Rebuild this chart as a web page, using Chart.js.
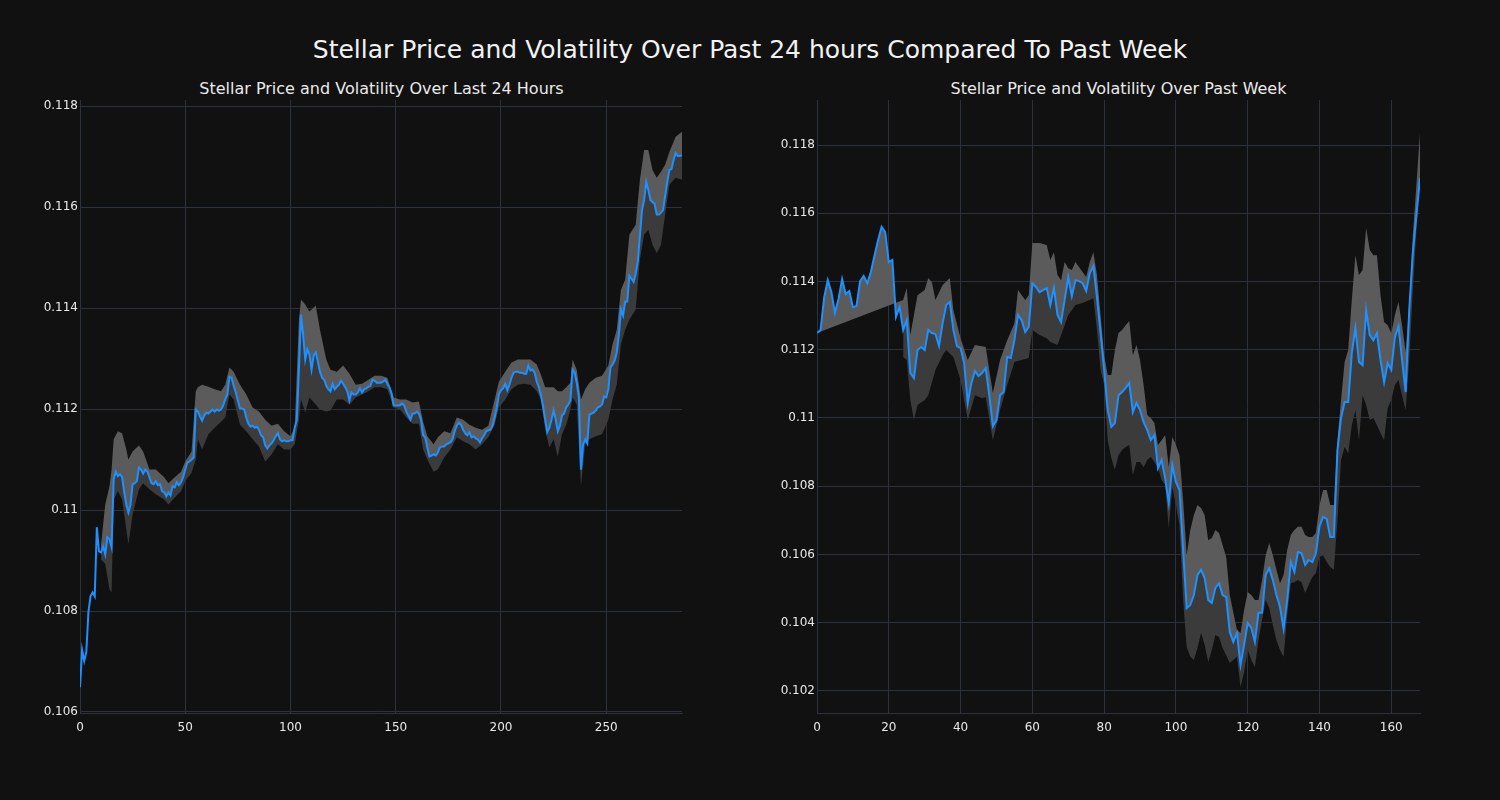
<!DOCTYPE html>
<html><head><meta charset="utf-8">
<script src="https://cdn.jsdelivr.net/npm/chart.js@4.4.1/dist/chart.umd.min.js"></script>
<style>
html,body{margin:0;padding:0;background:#111111;width:1500px;height:800px;overflow:hidden;font-family:"DejaVu Sans",sans-serif;}
#title{position:absolute;left:0;width:1500px;top:34px;line-height:32px;text-align:center;color:#f2f2f2;font-size:25px;white-space:nowrap;}
.sub{position:absolute;top:79px;line-height:20px;text-align:center;color:#eaeaea;font-size:16px;white-space:nowrap;}
canvas{position:absolute;top:0;}
</style></head><body>
<div id="title">Stellar Price and Volatility Over Past 24 hours Compared To Past Week</div>
<div class="sub" style="left:80px;width:603px">Stellar Price and Volatility Over Last 24 Hours</div>
<div class="sub" style="left:817px;width:603px">Stellar Price and Volatility Over Past Week</div>
<canvas id="c1" width="750" height="800" style="left:0"></canvas>
<canvas id="c2" width="750" height="800" style="left:750px"></canvas>
<script>
// ---- Last 24 hours (5-minute steps) ----
const dayPrice = [0.10649,0.10723,0.10701,0.10719,0.10798,0.10829,0.10837,0.10829,0.10966,0.10918,
0.10916,0.10928,0.10912,0.10946,0.10942,0.10926,0.11061,0.11076,0.11067,0.11071,
0.11065,0.11035,0.11011,0.10995,0.11011,0.11051,0.11053,0.11057,0.11084,0.11080,
0.11072,0.11080,0.11076,0.11065,0.11053,0.11051,0.11057,0.11049,0.11051,0.11037,
0.11035,0.11027,0.11035,0.11029,0.11047,0.11045,0.11055,0.11049,0.11055,0.11065,
0.11080,0.11094,0.11096,0.11100,0.11104,0.11199,0.11195,0.11185,0.11177,0.11187,
0.11193,0.11191,0.11195,0.11199,0.11195,0.11199,0.11197,0.11199,0.11207,0.11219,
0.11229,0.11264,0.11262,0.11246,0.11233,0.11217,0.11201,0.11201,0.11199,0.11183,
0.11171,0.11165,0.11167,0.11163,0.11165,0.11159,0.11148,0.11144,0.11128,0.11122,
0.11128,0.11132,0.11138,0.11146,0.11152,0.11140,0.11136,0.11138,0.11136,0.11136,
0.11138,0.11138,0.11163,0.11179,0.11278,0.11387,0.11347,0.11298,0.11318,0.11308,
0.11278,0.11306,0.11312,0.11294,0.11274,0.11262,0.11258,0.11246,0.11239,0.11235,
0.11250,0.11239,0.11244,0.11248,0.11256,0.11250,0.11243,0.11235,0.11217,0.11233,
0.11229,0.11229,0.11233,0.11241,0.11233,0.11239,0.11241,0.11244,0.11246,0.11258,
0.11256,0.11252,0.11252,0.11252,0.11254,0.11258,0.11250,0.11243,0.11231,0.11207,
0.11207,0.11207,0.11207,0.11211,0.11207,0.11195,0.11187,0.11179,0.11191,0.11191,
0.11195,0.11191,0.11179,0.11148,0.11144,0.11124,0.11106,0.11108,0.11110,0.11108,
0.11114,0.11124,0.11126,0.11126,0.11130,0.11132,0.11134,0.11140,0.11156,0.11167,
0.11173,0.11169,0.11159,0.11152,0.11148,0.11154,0.11144,0.11146,0.11142,0.11140,
0.11134,0.11142,0.11148,0.11156,0.11158,0.11159,0.11167,0.11183,0.11203,0.11229,
0.11237,0.11241,0.11250,0.11237,0.11248,0.11262,0.11272,0.11274,0.11274,0.11272,
0.11272,0.11270,0.11270,0.11286,0.11276,0.11278,0.11272,0.11254,0.11243,0.11227,
0.11205,0.11179,0.11154,0.11163,0.11179,0.11197,0.11179,0.11156,0.11167,0.11187,
0.11191,0.11203,0.11209,0.11217,0.11278,0.11272,0.11252,0.11223,0.11080,0.11130,
0.11140,0.11132,0.11189,0.11191,0.11193,0.11197,0.11203,0.11205,0.11209,0.11225,
0.11223,0.11239,0.11282,0.11288,0.11296,0.11312,0.11347,0.11397,0.11385,0.11413,
0.11413,0.11464,0.11458,0.11452,0.11468,0.11492,0.11543,0.11594,0.11614,0.11650,
0.11634,0.11614,0.11610,0.11606,0.11585,0.11585,0.11589,0.11594,0.11622,0.11650,
0.11673,0.11675,0.11693,0.11707,0.11701,0.11701,0.11703];

const dayBandX = [10,12,14,15,16,18,20,22,23,25,28,30,33,36,40,42,45,48,50,53,
55,56,58,61,64,67,69,71,73,76,79,82,85,88,91,94,97,100,102,104,
105,107,109,112,114,117,119,122,125,128,131,134,137,140,143,146,149,152,155,158,
161,163,165,168,170,173,176,179,182,185,188,191,194,197,199,202,205,208,211,214,
217,219,221,223,225,227,229,231,233,234,236,238,240,242,245,248,251,253,255,257,
259,261,264,266,268,270,272,274,276,278,280,283,286];
const dayUpper = [0.10932,0.11011,0.11047,0.11080,0.11140,0.11156,0.11152,0.11120,0.11100,0.11116,
0.11128,0.11116,0.11080,0.11080,0.11065,0.11053,0.11065,0.11076,0.11096,0.11116,
0.11235,0.11243,0.11248,0.11244,0.11239,0.11235,0.11248,0.11282,0.11274,0.11248,
0.11229,0.11203,0.11195,0.11179,0.11167,0.11171,0.11156,0.11146,0.11163,0.11377,
0.11417,0.11407,0.11393,0.11405,0.11357,0.11298,0.11278,0.11274,0.11286,0.11270,
0.11248,0.11250,0.11258,0.11266,0.11266,0.11262,0.11223,0.11219,0.11219,0.11213,
0.11215,0.11175,0.11146,0.11130,0.11144,0.11156,0.11152,0.11183,0.11179,0.11169,
0.11163,0.11159,0.11167,0.11219,0.11254,0.11274,0.11292,0.11298,0.11298,0.11298,
0.11288,0.11268,0.11243,0.11243,0.11243,0.11235,0.11235,0.11243,0.11252,0.11298,
0.11278,0.11219,0.11239,0.11252,0.11262,0.11266,0.11286,0.11328,0.11357,0.11436,
0.11456,0.11545,0.11565,0.11654,0.11713,0.11713,0.11673,0.11658,0.11670,0.11684,
0.11709,0.11739,0.11749];
const dayLower = [0.10902,0.10893,0.10843,0.10837,0.11021,0.11037,0.11021,0.10962,0.10932,0.10991,
0.11041,0.11053,0.11041,0.11031,0.11021,0.11011,0.11025,0.11037,0.11057,0.11074,
0.11100,0.11140,0.11120,0.11150,0.11163,0.11175,0.11183,0.11229,0.11219,0.11169,
0.11156,0.11140,0.11126,0.11096,0.11110,0.11130,0.11120,0.11120,0.11130,0.11179,
0.11219,0.11193,0.11223,0.11209,0.11199,0.11195,0.11197,0.11219,0.11219,0.11209,
0.11223,0.11229,0.11235,0.11243,0.11243,0.11239,0.11203,0.11199,0.11183,0.11171,
0.11171,0.11120,0.11100,0.11076,0.11080,0.11104,0.11120,0.11144,0.11136,0.11130,
0.11120,0.11130,0.11144,0.11169,0.11203,0.11219,0.11239,0.11248,0.11250,0.11248,
0.11235,0.11219,0.11159,0.11124,0.11140,0.11106,0.11150,0.11169,0.11199,0.11223,
0.11209,0.11047,0.11130,0.11140,0.11146,0.11150,0.11179,0.11219,0.11248,0.11328,
0.11357,0.11377,0.11397,0.11496,0.11545,0.11555,0.11525,0.11509,0.11525,0.11585,
0.11644,0.11658,0.11654];

// ---- Past week (hourly steps) ----
const weekPrice = [0.11249,0.11258,0.11354,0.11404,0.11369,0.11308,0.11349,0.11407,0.11363,0.11372,
0.11325,0.11328,0.11401,0.11416,0.11395,0.11428,0.11475,0.11521,0.11560,0.11545,
0.11457,0.11463,0.11296,0.11325,0.11258,0.11287,0.11132,0.11117,0.11199,0.11208,
0.11199,0.11258,0.11249,0.11246,0.11211,0.11278,0.11331,0.11340,0.11258,0.11211,
0.11205,0.11161,0.11044,0.11102,0.11138,0.11123,0.11132,0.11146,0.11067,0.10976,
0.10994,0.11067,0.11076,0.11179,0.11176,0.11228,0.11302,0.11287,0.11252,0.11267,
0.11395,0.11384,0.11369,0.11375,0.11381,0.11331,0.11381,0.11302,0.11281,0.11346,
0.11413,0.11357,0.11404,0.11401,0.11395,0.11372,0.11425,0.11445,0.11354,0.11249,
0.11141,0.11023,0.10974,0.10985,0.11067,0.11076,0.11088,0.11102,0.11017,0.11044,
0.11023,0.10988,0.10965,0.10935,0.10950,0.10853,0.10877,0.10824,0.10751,0.10862,
0.10812,0.10789,0.10613,0.10443,0.10452,0.10481,0.10540,0.10555,0.10531,0.10467,
0.10458,0.10502,0.10516,0.10481,0.10475,0.10373,0.10344,0.10370,0.10276,0.10335,
0.10399,0.10385,0.10344,0.10429,0.10429,0.10540,0.10560,0.10525,0.10481,0.10446,
0.10382,0.10467,0.10578,0.10549,0.10607,0.10604,0.10569,0.10584,0.10578,0.10604,
0.10683,0.10710,0.10704,0.10651,0.10651,0.10906,0.11000,0.11047,0.11047,0.11190,
0.11264,0.11164,0.11155,0.11316,0.11243,0.11228,0.11249,0.11170,0.11105,0.11161,
0.11141,0.11237,0.11269,0.11170,0.11076,0.11316,0.11483,0.11595,0.11703];

const hourlyFrom79 = Array.from({length: 90}, (_, k) => 79 + k);
const weekUpperX = [0,24,25,26,28,30,31,32,33,35,37,38,40,42,44,47,49,51,53,55,56,58,59,60,62,64,65,66,67,68,69,70,71,72,74,75,76,77,78].concat(hourlyFrom79);
const weekUpper = [0.11249,0.11346,0.11381,0.11243,0.11360,0.11375,0.11410,0.11398,0.11346,0.11390,
0.11410,0.11316,0.11234,0.11170,0.11214,0.11208,0.11073,0.11170,0.11228,0.11278,
0.11375,0.11346,0.11360,0.11513,0.11513,0.11507,0.11463,0.11486,0.11419,0.11404,
0.11457,0.11439,0.11434,0.11457,0.11428,0.11413,0.11457,0.11486,0.11419,
0.11302,0.11184,0.11126,0.11126,0.11199,0.11249,0.11258,0.11272,0.11284,0.11184,
0.11214,0.11170,0.11097,0.11009,0.11000,0.10985,0.10921,0.10935,0.10950,0.10856,
0.10944,0.10921,0.10891,0.10760,0.10598,0.10672,0.10716,0.10745,0.10736,0.10716,
0.10642,0.10648,0.10672,0.10663,0.10628,0.10593,0.10481,0.10429,0.10379,0.10370,
0.10437,0.10490,0.10481,0.10467,0.10467,0.10525,0.10598,0.10634,0.10598,0.10555,
0.10516,0.10540,0.10613,0.10657,0.10672,0.10681,0.10681,0.10657,0.10651,0.10651,
0.10663,0.10745,0.10789,0.10789,0.10745,0.10745,0.10935,0.11053,0.11164,0.11199,
0.11346,0.11477,0.11419,0.11434,0.11557,0.11492,0.11477,0.11477,0.11360,0.11281,
0.11272,0.11249,0.11302,0.11340,0.11272,0.11193,0.11331,0.11536,0.11683,0.11835];
const weekLowerX = [24,25,26,27,28,30,31,33,35,36,38,40,42,44,46,47,49,51,53,55,57,59,60,62,64,65,67,69,70,72,74,76,77,78].concat(hourlyFrom79);
const weekLower = [0.11179,0.11170,0.11053,0.10994,0.11038,0.11053,0.11067,0.11141,0.11184,0.11199,
0.11179,0.11111,0.10994,0.11067,0.11058,0.11061,0.10935,0.11023,0.11097,0.11164,
0.11170,0.11176,0.11258,0.11243,0.11234,0.11223,0.11214,0.11272,0.11302,0.11331,
0.11337,0.11346,0.11351,0.11258,
0.11141,0.11097,0.10935,0.10883,0.10848,0.10891,0.10906,0.10915,0.10921,0.10833,
0.10871,0.10871,0.10856,0.10877,0.10886,0.10871,0.10856,0.10818,0.10804,0.10678,
0.10798,0.10745,0.10686,0.10467,0.10329,0.10300,0.10291,0.10326,0.10370,0.10335,
0.10285,0.10320,0.10364,0.10358,0.10326,0.10305,0.10282,0.10291,0.10300,0.10212,
0.10256,0.10320,0.10291,0.10270,0.10349,0.10408,0.10467,0.10443,0.10393,0.10349,
0.10320,0.10300,0.10423,0.10516,0.10519,0.10525,0.10519,0.10487,0.10511,0.10534,
0.10546,0.10593,0.10598,0.10578,0.10563,0.10555,0.10701,0.10877,0.10915,0.10897,
0.10979,0.11023,0.10935,0.11067,0.11038,0.10994,0.11000,0.10979,0.10956,0.10935,
0.11029,0.11053,0.11097,0.11111,0.11067,0.11023,0.11170,0.11375,0.11551,0.11697];

const LINE = '#1e90ff', LIGHT = '#5b5b5b', DARK = '#3b3b3b';
const GRID = '#2b323c', TICK = '#e8e8e8';
const FONT = {family: 'DejaVu Sans', size: 12};

function pts(xs, ys) { return ys.map((y, i) => ({x: xs ? xs[i] : i, y})); }

function makeChart(id, cfg) {
  new Chart(document.getElementById(id), {
    type: 'line',
    data: {datasets: [
      {data: pts(null, cfg.price), borderColor: LINE, borderWidth: 2, pointRadius: 0, fill: false, tension: 0, order: 0},
      {data: pts(cfg.upX, cfg.up), borderWidth: 0, borderColor: 'rgba(0,0,0,0)', pointRadius: 0, fill: 0, backgroundColor: LIGHT, tension: 0, order: 1},
      {data: pts(cfg.loX, cfg.lo), borderWidth: 0, borderColor: 'rgba(0,0,0,0)', pointRadius: 0, fill: 0, backgroundColor: DARK, tension: 0, order: 2}
    ]},
    options: {
      responsive: false, animation: false, devicePixelRatio: 1,
      layout: {padding: {left: 0, right: cfg.padRight, top: 100, bottom: 57}},
      plugins: {legend: {display: false}, tooltip: {enabled: false}, title: {display: false}},
      scales: {
        x: {type: 'linear', min: 0, max: cfg.xMax,
            afterFit: s => { s.height = 30; },
            ticks: {stepSize: cfg.xStep, includeBounds: false, color: TICK, font: FONT, padding: 8, maxRotation: 0},
            grid: {color: GRID, drawTicks: false}, border: {display: true, color: GRID}},
        y: {type: 'linear', min: cfg.yMin, max: cfg.yMax,
            afterFit: s => { s.width = cfg.yWidth; },
            ticks: {stepSize: 0.002, includeBounds: false, color: TICK, font: FONT, padding: 2,
                    callback: v => String(parseFloat(v.toFixed(3)))},
            grid: {color: GRID, drawTicks: false}, border: {display: true, color: GRID}}
      }
    }
  });
}

makeChart('c1', {price: dayPrice, upX: dayBandX, up: dayUpper, loX: dayBandX, lo: dayLower,
  xMax: 286, xStep: 50, yMin: 0.10598, yMax: 0.11812, yWidth: 80, padRight: 68});
makeChart('c2', {price: weekPrice, upX: weekUpperX, up: weekUpper, loX: weekLowerX, lo: weekLower,
  xMax: 168, xStep: 20, yMin: 0.101355, yMax: 0.119319, yWidth: 67, padRight: 80});
</script>
</body></html>
